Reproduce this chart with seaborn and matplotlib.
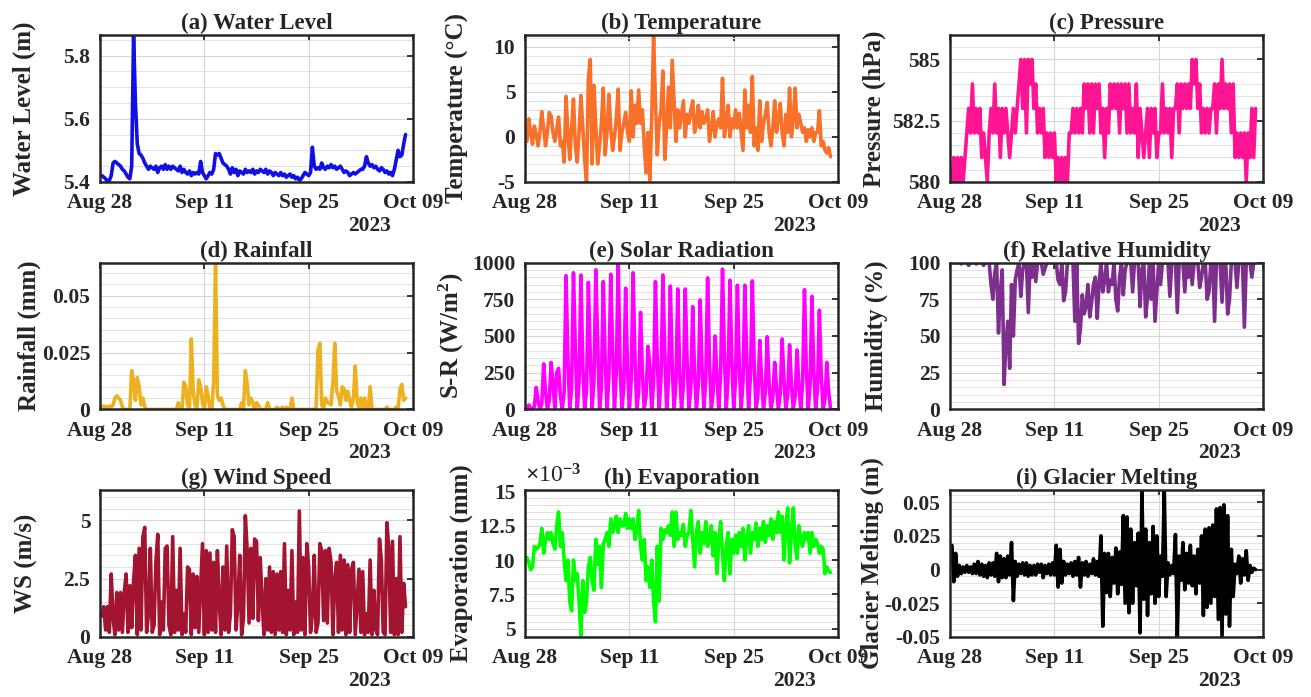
import numpy as np
import pandas as pd
import matplotlib
matplotlib.use("Agg")
import matplotlib.pyplot as plt
import matplotlib.dates as mdates
from matplotlib.ticker import MultipleLocator, FuncFormatter
import seaborn as sns

# 6-hourly samples starting 2023-08-28 06:00 (4 values per day)
START = "2023-08-28 06:00"
STEP = "6h"
X_TICKS = ["2023-08-28", "2023-09-11", "2023-09-25", "2023-10-09"]

water_level = [
    5.42, 5.415, 5.41, 5.40, 5.405, 5.42, 5.46, 5.465,
    5.46, 5.455, 5.45, 5.44, 5.435, 5.425, 5.415, 5.41,
    5.45, 5.865, 5.65, 5.52, 5.49, 5.485, 5.475, 5.46,
    5.45, 5.44, 5.45, 5.445, 5.44, 5.45, 5.43, 5.445,
    5.45, 5.44, 5.455, 5.44, 5.45, 5.44, 5.45, 5.445,
    5.44, 5.435, 5.45, 5.43, 5.44, 5.43, 5.425, 5.435,
    5.42, 5.43, 5.425, 5.43, 5.425, 5.465, 5.43, 5.42,
    5.41, 5.42, 5.43, 5.425, 5.44, 5.49, 5.485, 5.49,
    5.475, 5.46, 5.455, 5.45, 5.44, 5.425, 5.445, 5.43,
    5.44, 5.42, 5.435, 5.43, 5.425, 5.44, 5.43, 5.435,
    5.43, 5.44, 5.425, 5.435, 5.43, 5.44, 5.435, 5.43,
    5.44, 5.425, 5.435, 5.43, 5.42, 5.43, 5.425, 5.42,
    5.43, 5.42, 5.425, 5.415, 5.42, 5.425, 5.415, 5.42,
    5.41, 5.415, 5.405, 5.41, 5.42, 5.43, 5.425, 5.42,
    5.43, 5.51, 5.45, 5.44, 5.445, 5.44, 5.46, 5.445,
    5.44, 5.45, 5.445, 5.455, 5.445, 5.45, 5.44, 5.445,
    5.45, 5.44, 5.43, 5.435, 5.43, 5.42, 5.425, 5.43,
    5.425, 5.43, 5.435, 5.44, 5.44, 5.45, 5.48, 5.46,
    5.45, 5.455, 5.445, 5.45, 5.44, 5.435, 5.445, 5.44,
    5.43, 5.435, 5.425, 5.43, 5.42, 5.44, 5.47, 5.5,
    5.48, 5.485, 5.52, 5.55,
]

temperature = [
    -0.5, 2.0, 0.5, -0.8, 1.2, 0.3, -1.0, 0.5,
    2.8, 1.0, -1.0, 0.5, 2.7, 2.3, 0.5, -0.5,
    0.8, 2.2, -1.0, -0.5, -2.8, 4.5, 0.5, -2.5,
    1.0, 4.2, -1.0, -2.8, 0.5, 4.6, 1.0, -2.5,
    -5.0, 6.5, 8.6, -3.0, 5.7, 1.0, -3.0, -1.0,
    1.5, 5.4, -2.0, 0.5, 4.7, 1.0, -1.5, 0.0,
    2.0, 5.3, -1.5, 0.5, 1.5, 2.7, 0.5, -0.5,
    5.1, 0.0, 3.5, 1.5, 5.2, 1.5, 3.0, -1.0,
    -4.0, 0.5, -4.8, 2.0, 11.2, 4.0, -2.0, 1.5,
    3.0, 7.3, -2.5, 1.0, 5.5, 1.0, 8.5, 4.0,
    -0.5, 3.0, 1.0, 2.5, 4.0, 0.0, 2.5, 1.5,
    3.0, 4.0, 0.5, 1.5, 3.5, 1.0, 2.8, 1.5,
    2.0, 3.0, -0.5, 1.0, 2.8, 0.0, 1.5, 2.0,
    1.0, 6.5, 0.0, 1.5, 3.5, 0.0, 2.0, 1.0,
    3.0, 1.0, 2.6, 0.5, -1.5, 5.2, 1.0, 3.5,
    0.5, 6.7, -1.0, 1.0, -1.5, 4.0, -0.5, 1.5,
    2.5, 3.8, 0.5, -1.0, 1.0, 4.0, 0.5, 2.0,
    3.7, 0.5, -1.0, 2.5, 0.5, 5.4, 0.0, 2.0,
    5.4, 1.0, 2.5, 1.5, 0.5, 1.0, -0.5, 0.8,
    0.0, 1.0, -0.5, 0.5, 0.5, 2.9, -1.0, -0.5,
    -1.5, -1.8, -1.2, -2.2,
]

pressure = [
    580, 581, 580, 581, 580, 581, 580, 581,
    582, 583, 582, 584, 582, 583, 582, 583,
    581, 582, 581, 580, 582, 583, 582, 584,
    582, 583, 581, 583, 582, 583, 582, 581,
    582, 583, 582, 583, 584, 585, 583, 585,
    582, 585, 584, 585, 583, 584, 582, 583,
    582, 583, 581, 582, 581, 582, 581, 582,
    580, 581, 580, 581, 580, 581, 580, 582,
    582, 583, 582, 583, 582, 583, 582, 584,
    583, 584, 582, 584, 582, 584, 583, 584,
    582, 583, 581, 583, 582, 584, 583, 584,
    583, 584, 582, 584, 583, 584, 582, 584,
    582, 583, 582, 584, 581, 583, 582, 581,
    582, 583, 581, 583, 582, 583, 581, 582,
    582, 584, 582, 583, 582, 583, 581, 583,
    583, 584, 582, 584, 583, 584, 583, 584,
    583, 585, 584, 585, 583, 584, 582, 583,
    582, 583, 582, 583, 583, 584, 582, 584,
    583, 585, 583, 584, 583, 584, 582, 584,
    581, 582, 581, 582, 581, 582, 580, 582,
    581, 583, 581, 583,
]

rainfall = [
    0.001, 0.0015, 0.001, 0.001, 0.0015, 0.001, 0.002, 0.005,
    0.006, 0.005, 0.004, 0.001, 0, 0, 0, 0,
    0.017, 0.012, 0.004, 0.014, 0.010, 0.002, 0.005, 0.001,
    0, 0, 0, 0, 0, 0, 0, 0,
    0, 0, 0, 0, 0, 0, 0, 0,
    0, 0.003, 0, 0, 0.012, 0.010, 0.002, 0,
    0.031, 0.008, 0.002, 0, 0.013, 0.010, 0.003, 0,
    0.010, 0.006, 0, 0, 0.012, 0.064, 0.006, 0.004,
    0.005, 0.002, 0, 0, 0, 0, 0, 0,
    0, 0, 0, 0.003, 0, 0.017, 0.011, 0.002,
    0.005, 0.003, 0, 0.003, 0.002, 0, 0, 0,
    0, 0.003, 0, 0, 0, 0, 0.001, 0,
    0, 0.001, 0, 0.001, 0, 0, 0.005, 0,
    0, 0, 0, 0, 0, 0, 0, 0,
    0, 0, 0, 0.001, 0.026, 0.029, 0.002, 0,
    0.005, 0.003, 0.003, 0.002, 0.012, 0.029, 0.008, 0.006,
    0.002, 0.010, 0.009, 0.004, 0.008, 0.004, 0.001, 0.005,
    0.019, 0.004, 0, 0.005, 0, 0.005, 0, 0,
    0.010, 0, 0, 0, 0, 0, 0, 0,
    0, 0.001, 0, 0, 0, 0, 0.001, 0,
    0.009, 0.011, 0.004, 0.005,
]

solar = [
    0, 30, 10, 0, 20, 150, 60, 0,
    40, 310, 120, 0, 60, 320, 180, 0,
    250, 280, 90, 0, 120, 910, 350, 0,
    150, 930, 420, 0, 180, 915, 300, 0,
    130, 865, 380, 0, 200, 950, 450, 0,
    150, 870, 350, 0, 220, 920, 400, 0,
    250, 1010, 300, 0, 150, 825, 280, 0,
    200, 930, 350, 0, 120, 660, 250, 0,
    100, 430, 300, 0, 180, 870, 320, 0,
    220, 915, 380, 0, 200, 840, 300, 0,
    180, 820, 260, 0, 160, 820, 330, 0,
    150, 700, 250, 0, 170, 745, 290, 0,
    200, 895, 320, 0, 120, 500, 230, 0,
    250, 955, 380, 0, 220, 880, 330, 0,
    200, 845, 300, 0, 190, 845, 350, 0,
    230, 875, 310, 0, 100, 470, 200, 0,
    120, 495, 180, 0, 80, 320, 150, 0,
    110, 480, 200, 0, 100, 440, 170, 0,
    90, 405, 160, 0, 180, 815, 280, 0,
    160, 770, 260, 0, 140, 675, 230, 0,
    70, 320, 120, 0,
]

humidity = [
    100, 100, 100, 100, 100, 99, 100, 100,
    100, 98, 100, 100, 100, 99, 100, 100,
    100, 98, 100, 100, 100, 85, 75, 93,
    100, 52, 80, 95, 17, 45, 60, 28,
    85, 50, 88, 95, 100, 77, 95, 100,
    100, 66, 100, 90, 100, 87, 100, 100,
    100, 92, 96, 100, 100, 100, 100, 100,
    100, 88, 85, 100, 74, 80, 100, 100,
    100, 100, 60, 100, 45, 55, 78, 65,
    70, 85, 63, 73, 85, 90, 62, 85,
    100, 80, 88, 100, 80, 88, 85, 100,
    75, 67, 90, 100, 78, 95, 100, 100,
    100, 80, 100, 100, 100, 70, 95, 100,
    63, 76, 100, 75, 100, 60, 80, 100,
    85, 100, 100, 100, 100, 77, 100, 100,
    100, 66, 100, 100, 100, 80, 100, 90,
    100, 85, 100, 100, 100, 83, 90, 100,
    100, 75, 80, 100, 100, 60, 100, 100,
    100, 73, 100, 100, 65, 75, 100, 100,
    100, 83, 100, 100, 100, 56, 100, 100,
    100, 90, 100, 100,
]

wind_speed = [
    0.9, 1.3, 0.3, 1.3, 0.2, 2.7, 0.8, 0.1,
    1.9, 0.3, 1.9, 0.2, 1.9, 2.7, 0.2, 2.2,
    0.4, 2.4, 3.5, 0.1, 3.8, 0.3, 4.3, 4.7,
    0.2, 1.0, 3.8, 0.2, 0.5, 3.2, 4.4, 0.1,
    1.5, 0.3, 3.8, 3.9, 0.5, 0.1, 4.3, 0.2,
    2.0, 0.3, 3.8, 0.1, 1.0, 0.2, 3.0, 2.9,
    0.1, 2.7, 0.4, 2.6, 0.2, 2.1, 4.0, 0.1,
    3.7, 0.2, 3.6, 0.3, 3.2, 0.2, 3.7, 1.5,
    0.1, 3.0, 0.3, 3.9, 0.2, 1.0, 4.6, 4.3,
    0.3, 1.5, 3.5, 0.1, 0.8, 5.2, 3.7, 0.6,
    3.8, 0.8, 4.2, 4.1, 0.7, 3.4, 1.5, 0.1,
    2.5, 0.3, 3.0, 0.2, 2.8, 0.1, 2.7, 0.3,
    2.8, 0.2, 4.0, 0.1, 2.0, 0.3, 3.7, 0.1,
    1.5, 0.2, 5.4, 0.3, 3.4, 0.1, 4.0, 3.0,
    0.2, 1.0, 3.5, 0.2, 0.6, 4.0, 3.7, 0.7,
    3.7, 0.6, 3.8, 3.2, 0.1, 2.5, 3.2, 0.2,
    3.5, 0.3, 3.3, 0.1, 3.1, 0.2, 2.9, 3.2,
    0.1, 1.5, 2.9, 0.2, 2.8, 0.1, 1.0, 0.2,
    3.3, 0.1, 2.0, 0.3, 0.1, 4.2, 3.3, 0.2,
    0.1, 4.9, 3.8, 0.2, 4.1, 0.1, 2.5, 0.1,
    4.3, 0.2, 2.3, 1.3,
]

# evaporation in units of 1e-3 mm
evaporation_e3 = [
    10.2, 9.8, 9.3, 9.5, 11.0, 10.8, 10.9, 11.2,
    12.3, 10.5, 11.5, 12.0, 11.5, 12.0, 11.2, 10.8,
    12.5, 13.5, 11.0, 12.0, 10.0, 8.5, 10.0, 7.0,
    6.3, 10.0, 8.5, 9.0, 7.0, 4.4, 8.5, 6.2,
    7.0, 9.5, 10.2, 8.5, 7.8, 11.5, 9.7, 11.0,
    8.0, 11.2, 11.5, 12.0, 11.0, 13.0, 12.0, 12.5,
    13.2, 12.0, 13.0, 12.5, 12.5, 13.4, 12.3, 13.0,
    12.3, 13.0, 11.5, 12.2, 13.6, 11.0, 10.0, 11.5,
    8.5, 9.5, 8.0, 10.0, 7.0, 5.5, 11.0, 7.0,
    12.3, 11.5, 12.2, 12.0, 12.5, 11.8, 13.5, 11.0,
    13.5, 11.5, 12.0, 11.8, 12.6, 11.0, 11.8, 12.0,
    13.6, 11.5, 9.5, 12.0, 12.8, 10.5, 12.0, 11.2,
    12.8, 11.0, 11.5, 12.5, 10.3, 12.0, 9.0, 11.5,
    12.8, 10.5, 8.5, 11.0, 12.0, 9.0, 11.5, 10.5,
    11.8, 10.5, 12.0, 11.0, 12.3, 10.0, 11.5, 12.5,
    10.5, 12.0, 11.5, 12.7, 11.0, 12.3, 11.5, 12.8,
    11.3, 12.5, 11.8, 13.0, 11.5, 12.8, 12.0, 13.5,
    12.0, 13.2, 10.0, 12.5, 13.8, 9.8, 12.0, 13.8,
    11.0, 10.1, 12.5, 11.5, 11.0, 12.0, 11.5, 12.0,
    10.5, 12.0, 11.0, 11.5, 11.2, 10.5, 11.0, 10.8,
    9.0, 9.5, 9.2, 9.1,
]

glacier_melt = [
    0.018, -0.009, 0.012, -0.005, 0.003, -0.003, 0.002, -0.002,
    0.003, -0.002, 0.002, -0.003, 0.004, -0.003, 0.006, -0.004,
    0.004, -0.005, 0.003, -0.006, 0.005, -0.004, 0.005, -0.005,
    0.012, -0.009, 0.010, -0.006, 0.008, -0.006, 0.010, -0.004,
    0.020, -0.023, 0.006, -0.005, 0.004, -0.003, 0.005, -0.004,
    0.005, -0.005, 0.003, -0.004, 0.003, -0.004, 0.004, -0.002,
    0.004, -0.006, 0.003, -0.003, 0.004, -0.004, 0.005, -0.004,
    0.018, -0.013, 0.015, -0.010, 0.006, -0.004, 0.004, -0.003,
    0.005, -0.005, 0.006, -0.004, 0.009, -0.013, 0.005, -0.004,
    0.006, -0.005, 0.004, -0.003, 0.008, -0.004, 0.006, -0.005,
    0.025, -0.042, 0.012, -0.017, 0.012, -0.020, 0.009, -0.010,
    0.016, -0.018, 0.013, -0.011, 0.040, -0.025, 0.039, -0.032,
    0.030, -0.025, 0.020, -0.012, 0.027, -0.047, 0.058, -0.022,
    0.030, -0.034, 0.020, -0.018, 0.032, -0.025, 0.025, -0.020,
    0.010, -0.005, 0.059, -0.020, 0.005, -0.004, 0.003, -0.003,
    0.026, -0.050, 0.010, -0.008, 0.020, -0.015, 0.012, -0.010,
    0.018, -0.012, 0.010, -0.018, 0.015, -0.010, 0.025, -0.034,
    0.030, -0.028, 0.031, -0.025, 0.033, -0.020, 0.045, -0.037,
    0.046, -0.050, 0.048, -0.033, 0.040, -0.042, 0.015, -0.020,
    0.004, -0.003, 0.010, -0.010, 0.008, -0.004, 0.014, -0.008,
    0.003, -0.002, 0.001, 0.0,
]

sns.set_theme(style="white")
plt.rcParams.update({
    "font.family": ["Liberation Serif", "DejaVu Sans"],
    "font.weight": "bold",
    "axes.titleweight": "bold",
    "axes.labelweight": "bold",
    "axes.unicode_minus": False,
    "mathtext.fontset": "custom",
    "mathtext.rm": "Liberation Serif",
    "mathtext.bf": "Liberation Serif:bold",
    "mathtext.default": "bf",
})

TICK_FS = 15.5
TITLE_FS = 16.5
LABEL_FS = 18

# title, ylabel, values, colour, ylim, major step, minor step, ylabel x (axes fraction)
panels = [
    ("(a) Water Level", "Water Level (m)", water_level, "#1010e6", (5.4, 5.865), 0.2, 0.05, -0.204),
    ("(b) Temperature", "Temperature (°C)", temperature, "#f7712b", (-5, 11.3), 5, 1, -0.179),
    ("(c) Pressure", "Pressure (hPa)", pressure, "#ff1493", (580, 586), 2.5, 0.5, -0.204),
    ("(d) Rainfall", "Rainfall (mm)", rainfall, "#edb120", (0, 0.0645), 0.025, 0.005, -0.188),
    ("(e) Solar Radiation", "S-R (W/m$^2$)", solar, "#ff00ff", (0, 1000), 250, 50, -0.188),
    ("(f) Relative Humidity", "Humidity (%)", humidity, "#7e2f8e", (0, 100), 25, 5, -0.198),
    ("(g) Wind Speed", "WS (m/s)", wind_speed, "#a2142f", (0, 6.3), 2.5, 0.5, -0.198),
    ("(h) Evaporation", "Evaporation (mm)", list(np.array(evaporation_e3) * 1e-3),
     "#00ff00", (4.4e-3, 15.1e-3), 2.5e-3, 0.5e-3, -0.166),
    ("(i) Glacier Melting", "Glacier Melting (m)", glacier_melt, "black", (-0.05, 0.059), 0.025, 0.005, -0.211),
]

fig, axes = plt.subplots(3, 3, figsize=(13.11, 6.97), dpi=100)
fig.subplots_adjust(left=0.0763, right=0.9634, top=0.9498, bottom=0.0861,
                    wspace=0.358, hspace=0.548)

for ax, (title, ylabel, values, color, ylim, major, minor, label_x) in zip(axes.flat, panels):
    df = pd.DataFrame({
        "time": pd.date_range(START, periods=len(values), freq=STEP),
        "value": values,
    })
    sns.lineplot(data=df, x="time", y="value", ax=ax, color=color, linewidth=2.6)

    ax.set_xlim(pd.Timestamp("2023-08-28"), pd.Timestamp("2023-10-09"))
    ax.set_xticks(pd.to_datetime(X_TICKS))
    ax.xaxis.set_major_formatter(mdates.DateFormatter("%b %d"))
    ax.set_ylim(*ylim)
    ax.yaxis.set_major_locator(MultipleLocator(major))
    ax.yaxis.set_minor_locator(MultipleLocator(minor))
    if title.startswith("(h)"):
        ax.yaxis.set_major_formatter(FuncFormatter(lambda v, _: f"{v * 1e3:g}"))
        ax.text(0.0, 1.02, r"$\times$10$^{\mathrm{-3}}$", transform=ax.transAxes,
                ha="left", va="bottom", fontsize=17, fontweight="normal")
    else:
        ax.yaxis.set_major_formatter(FuncFormatter(lambda v, _: f"{round(v, 6):g}"))

    ax.grid(True, which="major", color="#d6d6d6", linewidth=0.8)
    ax.grid(True, which="minor", axis="y", color="#e2e2e2", linewidth=0.7)
    ax.set_axisbelow(True)
    ax.tick_params(which="major", direction="in", top=True, right=True,
                   length=4, width=1.3, labelsize=TICK_FS, color="#262626")
    ax.tick_params(axis="x", which="major", pad=8)
    ax.tick_params(axis="y", which="major", pad=7)
    ax.tick_params(which="minor", length=0)
    for lab in ax.get_xticklabels() + ax.get_yticklabels():
        lab.set_fontweight("bold")
    for sp in ax.spines.values():
        sp.set_linewidth(1.8)
        sp.set_color("#262626")

    ax.set_title(title, fontsize=TITLE_FS, pad=4)
    ax.set_xlabel("")
    ax.set_ylabel(ylabel, fontsize=LABEL_FS)
    ax.yaxis.set_label_coords(label_x, 0.5)
    ax.annotate("2023", xy=(0.862, 0), xycoords="axes fraction",
                xytext=(0, -44), textcoords="offset pixels",
                ha="center", va="center", fontsize=TICK_FS, fontweight="bold")

fig.savefig("out.png", dpi=100)
